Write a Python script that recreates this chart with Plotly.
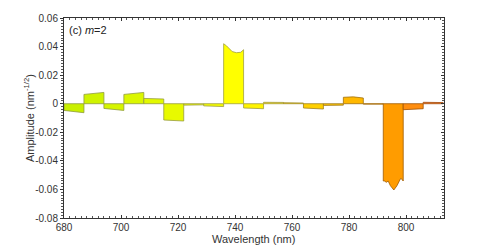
import plotly.graph_objects as go

# Segment edges (nm)
seg_start = [680, 687, 694, 701, 708, 715, 722, 729, 736, 743, 750, 757, 764, 771, 778, 785, 792, 799, 806]
seg_end = [687, 694, 701, 708, 715, 722, 729, 736, 743, 750, 757, 764, 771, 778, 785, 792, 799, 806, 813]

# Amplitude profile inside each segment (wavelength, amplitude)
prof_wl = [
    [680, 687], [687, 694], [694, 701], [701, 708], [708, 715], [715, 722],
    [722, 729], [729, 736],
    [736, 737, 738, 739, 740.5, 742, 743],
    [743, 750], [750, 757], [757, 764], [764, 771], [771, 778],
    [778, 781.5, 785], [785, 792],
    [792, 792.4, 793.1, 793.7, 794.5, 795.7, 796.8, 797.8, 798.2, 799, 799],
    [799, 806], [806, 813],
]
prof_amp = [
    [-0.0047, -0.0063], [0.0065, 0.0079], [-0.0033, -0.0047], [0.0065, 0.0079],
    [0.0037, 0.0033], [-0.0114, -0.0121], [-0.0010, -0.0008], [-0.0015, -0.0020],
    [0.0420, 0.0405, 0.0385, 0.0365, 0.0357, 0.0360, 0.0378],
    [-0.0030, -0.0035], [0.0010, 0.0009], [0.0007, 0.0005], [-0.0030, -0.0037],
    [-0.0012, -0.0010], [0.0045, 0.0048, 0.0040], [-0.0003, -0.0003],
    [-0.0541, -0.0541, -0.0550, -0.0541, -0.0574, -0.0604, -0.0574, -0.0534, -0.0522, -0.0541, -0.0541],
    [-0.0042, -0.0035], [0.0010, 0.0008],
]
seg_colors = ["#c9f000", "#cff300", "#d5f500", "#dbf700", "#e2f900", "#e8fa00",
              "#eefc00", "#f5fd00", "#ffff00", "#fff400", "#ffea00", "#ffdd00",
              "#ffd000", "#ffc400", "#ffb800", "#ffab00", "#ff9c00", "#ff8e10", "#ff8020"]
line_colors = ["#8f9a40", "#8f9a40", "#8f9a40", "#8f9a40", "#959c40", "#989c40",
               "#9c9c40", "#9c9c40", "#a0a040", "#a09a40", "#a09440", "#a08c30",
               "#a08020", "#a07a20", "#a07010", "#a06810", "#a05a00", "#a05000", "#a04a10"]

y_tickvals = [-0.08, -0.06, -0.04, -0.02, 0, 0.02, 0.04, 0.06]
y_ticktext = ["-0.08", "-0.06", "-0.04", "-0.02", "0", "0.02", "0.04", "0.06"]
x_tickvals = [680, 700, 720, 740, 760, 780, 800]

fig = go.Figure()
for s, e, wl, amp, fc, lc in zip(seg_start, seg_end, prof_wl, prof_amp, seg_colors, line_colors):
    xs = [s] + wl + [e, s]
    ys = [0] + amp + [0, 0]
    fig.add_trace(go.Scatter(x=xs, y=ys, mode="lines", fill="toself", fillcolor=fc,
                             line=dict(color=lc, width=0.8), hoverinfo="skip", showlegend=False))
# invisible copy on right axis so it gets drawn
fig.add_trace(go.Scatter(x=prof_wl[0], y=prof_amp[0], yaxis="y2", mode="lines",
                         line=dict(width=0), opacity=0, hoverinfo="skip", showlegend=False))

font_family = "Liberation Sans, Arial, sans-serif"
plot_w = 491 - 64 - 47
plot_h = 246 - 18 - 28
fig.update_layout(
    width=491, height=246,
    margin=dict(l=64, r=47, t=18, b=28),
    paper_bgcolor="white", plot_bgcolor="white",
    font=dict(family=font_family, size=10, color="#333333"),
    xaxis=dict(range=[680, 813.3], tickvals=x_tickvals, ticks="inside", ticklen=3,
               tickcolor="#333", showline=True, linecolor="#333", linewidth=1,
               mirror="ticks", showgrid=False, zeroline=False, automargin=False,
               minor=dict(dtick=2, ticks="inside", ticklen=2, tickcolor="#555"),
               tickfont=dict(size=10)),
    yaxis=dict(range=[-0.08, 0.06], tickvals=y_tickvals, ticktext=y_ticktext,
               ticks="outside", ticklen=3, tickcolor="#333", showline=True,
               linecolor="#333", linewidth=1, mirror=True, showgrid=False,
               zeroline=False, automargin=False,
               minor=dict(tickvals=[v / 1000 for v in range(-80, 61, 2)], ticks="outside",
                          ticklen=2, tickcolor="#555"),
               tickfont=dict(size=10)),
    yaxis2=dict(range=[-0.08, 0.06], overlaying="y", side="right", tickvals=y_tickvals,
                showticklabels=False, ticks="inside", ticklen=3, tickcolor="#333",
                showgrid=False, zeroline=False, showline=False,
                minor=dict(tickvals=[v / 1000 for v in range(-80, 61, 2)], ticks="inside",
                           ticklen=2, tickcolor="#555")),
    annotations=[
        dict(text="(c) <i>m</i>=2", xref="paper", yref="paper", x=0, y=1,
             xanchor="left", yanchor="top", xshift=3, yshift=-4, showarrow=False,
             font=dict(size=11, color="#222")),
        dict(text="Amplitude (nm<sup>-1/2</sup>)", xref="paper", yref="paper",
             x=-(64 - 29) / plot_w, y=0.5, xanchor="center", yanchor="middle",
             textangle=-90, showarrow=False, font=dict(size=11, color="#333")),
        dict(text="Wavelength (nm)", xref="paper", yref="paper",
             x=(253.7 - 64) / plot_w, y=-(238.5 - 218) / plot_h, xanchor="center",
             yanchor="middle", showarrow=False, font=dict(size=11, color="#333")),
    ],
)
fig.write_html("out.html", post_script="document.body.style.margin='0';",
               config={"displayModeBar": False})
